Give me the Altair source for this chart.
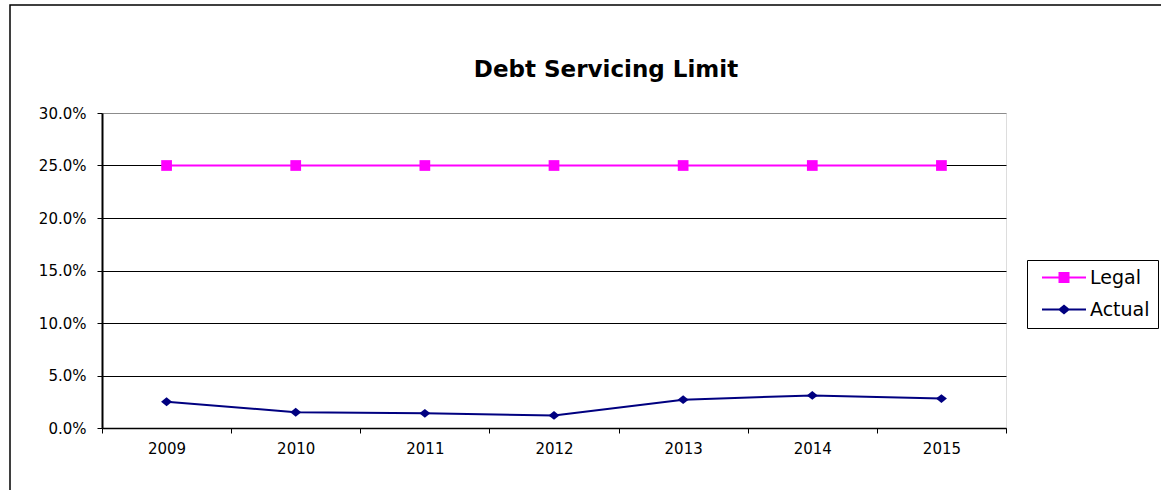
import altair as alt
import pandas as pd

years = ["2009", "2010", "2011", "2012", "2013", "2014", "2015"]
legal = [0.25, 0.25, 0.25, 0.25, 0.25, 0.25, 0.25]
actual = [0.025, 0.015, 0.014, 0.012, 0.027, 0.031, 0.028]
series = ["Legal", "Actual"]
colors = ["#FF00FF", "#000080"]
y_ticks = [0.0, 0.05, 0.10, 0.15, 0.20, 0.25, 0.30]

rows = []
for yr, v in zip(years, legal):
    rows.append({"Year": yr, "Series": "Legal", "Value": v})
for yr, v in zip(years, actual):
    rows.append({"Year": yr, "Series": "Actual", "Value": v})
df = pd.DataFrame(rows)

FONT = "DejaVu Sans"

x_enc = alt.X(
    "Year:N",
    sort=years,
    scale=alt.Scale(paddingInner=0, paddingOuter=0),
    axis=alt.Axis(
        title=None, labelAngle=0, tickBand="extent", grid=False,
        domainColor="black", domainWidth=1.5, tickColor="black", tickSize=5,
        labelFont=FONT, labelFontSize=15, labelColor="black", labelPadding=8,
    ),
)
y_enc = alt.Y(
    "Value:Q",
    scale=alt.Scale(domain=[0, 0.3], nice=False),
    axis=alt.Axis(
        title=None, values=y_ticks, format=".1%",
        gridColor={"condition": {"test": "datum.value >= 0.3", "value": "#8c8c8c"}, "value": "black"},
        gridWidth=1,
        domainColor="black", domainWidth=2, tickColor="black", tickSize=5,
        labelFont=FONT, labelFontSize=15, labelColor="black", labelPadding=11,
    ),
)

color_scale = alt.Scale(domain=series, range=colors)

base = alt.Chart(df)

lines = base.mark_line(strokeWidth=2).encode(
    x=x_enc, y=y_enc,
    color=alt.Color("Series:N", scale=color_scale,
                    legend=alt.Legend(title=None, orient="none", legendX=925, legendY=147)),
)

legal_pts = base.transform_filter(alt.datum.Series == "Legal").mark_point(
    filled=True, opacity=1, shape="square", size=115, color="#FF00FF"
).encode(x=x_enc, y=y_enc)

actual_pts = base.transform_filter(alt.datum.Series == "Actual").mark_point(
    filled=True, opacity=1, shape="M-1,0L0,-0.8L1,0L0,0.8Z", size=121, color="#000080"
).encode(x=x_enc, y=y_enc)

legend_paths = [
    "M-0.417,0L6.917,0M2.5,-0.75L4,-0.75L4,0.75L2.5,0.75Z",
    "M-0.417,0L6.917,0M2.5,0L3.25,-0.6L4,0L3.25,0.6Z",
]
leg = alt.Legend(
    title=None,
    strokeColor="black", fillColor="white", padding=8,
    labelFont=FONT, labelFontSize=19, labelColor="black",
    symbolSize=144, symbolStrokeWidth=2,
    labelOffset=36, rowPadding=12,
)
legend_layer = base.transform_filter("false").mark_point(filled=True, opacity=1).encode(
    x=x_enc, y=y_enc,
    fill=alt.Fill("Series:N", scale=alt.Scale(domain=series, range=colors), legend=leg),
    stroke=alt.Stroke("Series:N", scale=alt.Scale(domain=series, range=colors), legend=leg),
    shape=alt.Shape("Series:N", scale=alt.Scale(domain=series, range=legend_paths), legend=leg),
)

frame = alt.Chart(pd.DataFrame({"a": [0]})).mark_rect(
    fillOpacity=0, stroke="black", strokeWidth=1.5
).encode(
    x=alt.value(-92), x2=alt.value(1075),
    y=alt.value(-108), y2=alt.value(395),
)

chart = alt.layer(lines, legal_pts, actual_pts, legend_layer, frame).properties(
    width=904, height=315,
    title=alt.TitleParams(
        "Debt Servicing Limit", font=FONT, fontSize=23, fontWeight="bold",
        color="black", anchor="middle", frame="group", dx=52, offset=-101,
        baseline="bottom",
    ),
    autosize=alt.AutoSizeParams(type="none"),
    padding={"left": 102, "top": 113, "right": 155, "bottom": 62},
).configure_view(
    stroke="#8c8c8c", strokeWidth=2,
).configure(background="white")

chart.save("out.html", embed_options={"renderer": "svg", "actions": False})
